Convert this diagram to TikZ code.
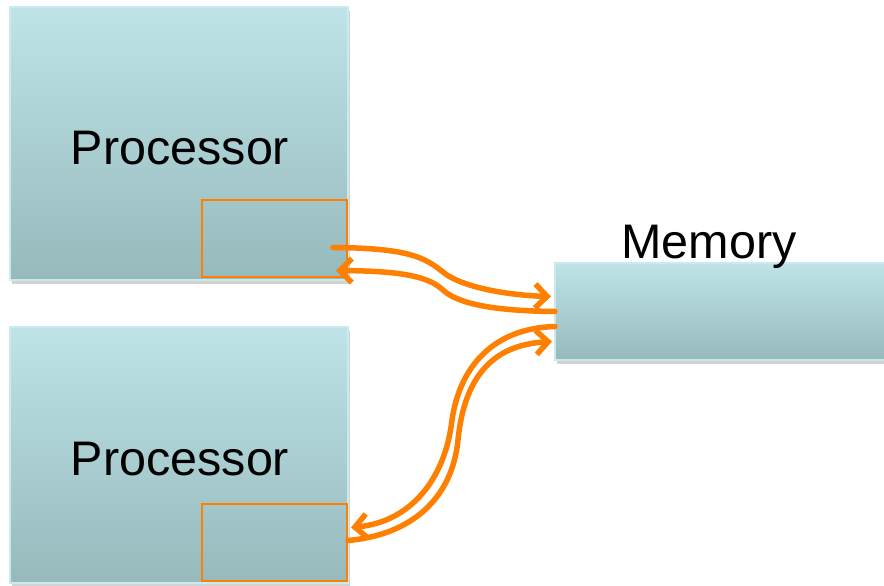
\documentclass[tikz,border=0pt]{standalone}
\usepackage{fontspec}
\setmainfont{Liberation Sans}
\usetikzlibrary{arrows.meta,shadows,calc}
\definecolor{boxtop}{HTML}{BEE4E8}
\definecolor{boxbot}{HTML}{96B9BC}
\definecolor{boxedge}{HTML}{CAEAEE}
\definecolor{orng}{HTML}{FF7F00}
\begin{document}
\begin{tikzpicture}[x=1pt,y=-1pt,
  unitbox/.style={draw=boxedge, line width=1.8pt, top color=boxtop, bottom color=boxbot,
    drop shadow={shadow xshift=2pt, shadow yshift=-4pt, opacity=0.25, fill=black!70},
    inner sep=0pt, outer sep=0pt, anchor=north west},
  cachebox/.style={draw=orng, line width=2pt, inner sep=0pt, outer sep=0pt, anchor=north west},
  lbl/.style={font=\fontsize{48.5}{58}\selectfont, anchor=base, inner sep=0pt},
  link/.style={draw=orng, line width=5.5pt, line cap=round, -{Straight Barb[length=12pt,width=24pt]}}
  ]
\useasboundingbox (0,0) rectangle (884,586);
% boxes
\node[unitbox, minimum width=338pt, minimum height=273pt] (proc1) at (10,7) {};
\node[unitbox, minimum width=338pt, minimum height=256pt] (proc2) at (10,327) {};
\node[unitbox, minimum width=334pt, minimum height=97pt] (mem) at (555,263) {};
\node[cachebox, minimum width=145pt, minimum height=77pt] (cache1) at (202,200) {};
\node[cachebox, minimum width=145pt, minimum height=77pt] (cache2) at (202,504) {};
% labels
\node[lbl] (t1) at (180,164) {Processor};
\node[lbl] (t2) at (180,475) {Processor};
\node[lbl] (t3) at (709,258) {Memory};
% connectors, top pair
\draw[link] ($(cache1.east)+(-14,9)$) .. controls (410,248) and (425,258) .. (443,272)
   .. controls (458,285) and (500,295) .. ($(mem.west)+(-4,-15)$);
\draw[link] ($(mem.west)+(0,0)$) .. controls (495,311) and (458,304) .. (443,290)
   .. controls (428,276) and (400,271) .. ($(cache1.east)+(-11,32)$);
% connectors, bottom pair
\draw[link] ($(mem.west)+(0,15)$) .. controls (495,328) and (460,365) .. (452,420)
   .. controls (445,480) and (410,522) .. ($(cache2.east)+(4,-15)$);
\draw[link] ($(cache2.east)+(1,-2)$) .. controls (410,535) and (452,500) .. (458,440)
   .. controls (464,380) and (490,345) .. ($(mem.west)+(-3,30)$);
\end{tikzpicture}
\end{document}
